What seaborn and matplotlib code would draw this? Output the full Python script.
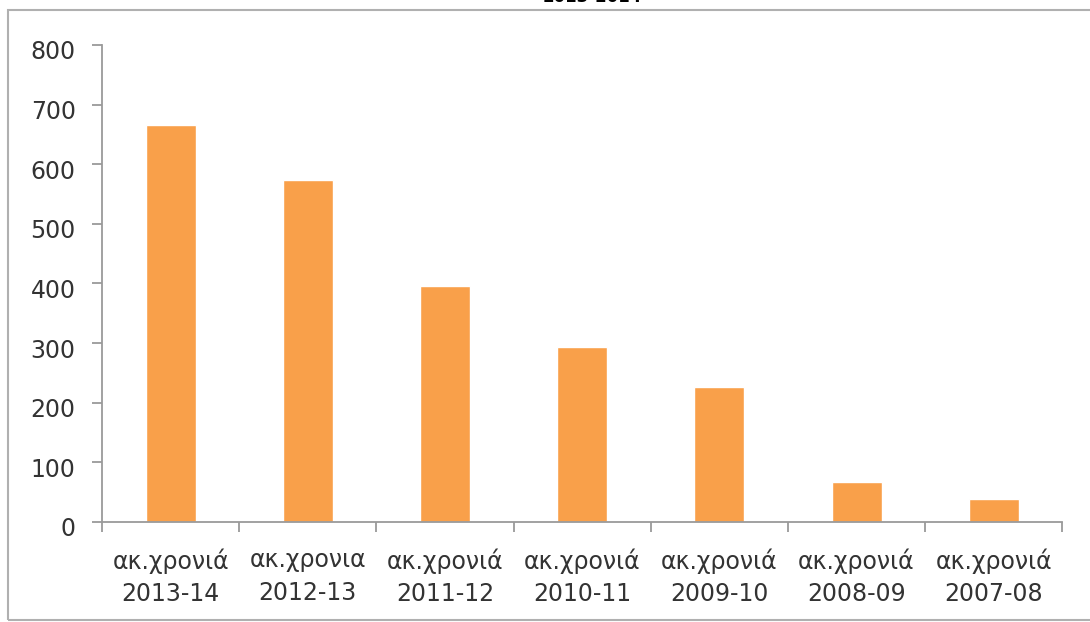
import matplotlib
matplotlib.use('Agg')
import matplotlib.pyplot as plt
import matplotlib.transforms as mtransforms
import seaborn as sns
import pandas as pd
from matplotlib.patches import Rectangle

# data
labels = ['ακ.χρονιά\n2013-14', 'ακ.χρονια\n2012-13', 'ακ.χρονιά\n2011-12',
          'ακ.χρονιά\n2010-11', 'ακ.χρονιά\n2009-10', 'ακ.χρονιά\n2008-09',
          'ακ.χρονιά\n2007-08']
values = [665, 574, 395, 293, 227, 67, 38]
title = '2013-2014'

df = pd.DataFrame({'label': labels, 'value': values})

sns.set_style('white')
plt.rcParams['font.family'] = ['DejaVu Sans']

fig = plt.figure(figsize=(10.9, 6.22), dpi=100)
ax = fig.add_axes([0.0936, 0.1608, 0.881, 0.7669])

sns.barplot(data=df, x='label', y='value', color='#F9A04A', width=0.365,
            saturation=1, ax=ax)

ax.set_xlim(-0.5, len(labels) - 0.5)
ax.set_ylim(0, 800)
ax.set_yticks(range(0, 801, 100))
ax.set_xlabel('')
ax.set_ylabel('')

for s in ['top', 'right']:
    ax.spines[s].set_visible(False)
for s in ['left', 'bottom']:
    ax.spines[s].set_color('#9a9a9a')
    ax.spines[s].set_linewidth(1.3)

ax.tick_params(axis='y', length=7, width=1.3, color='#9a9a9a',
               labelsize=17, labelcolor='#333333', pad=12, left=True)
ax.tick_params(axis='x', length=0, labelsize=17, labelcolor='#333333', pad=19)
ax.set_xticks([i - 0.5 for i in range(len(labels) + 1)], minor=True)
ax.tick_params(axis='x', which='minor', length=7, width=1.3, color='#9a9a9a',
               bottom=True)
for t in ax.get_xticklabels():
    t.set_linespacing(1.45)

# y labels sit a little below their ticks in the original
shift = mtransforms.ScaledTranslation(0, -5 / 100, fig.dpi_scale_trans)
for t in ax.get_yticklabels():
    t.set_transform(t.get_transform() + shift)

# outer frame of the original chart box
fig.patches.append(Rectangle((8 / 1090, 1 - 620 / 622), 1.0, (620 - 10) / 622,
                             transform=fig.transFigure, fill=False,
                             edgecolor='#b0b0b0', linewidth=1.5))

# title, cut off at the top of the picture
fig.text(0.543, 1.0 + 3 / 622, title, ha='center', va='center', fontsize=12,
         fontweight='bold', color='black')

fig.savefig('out.png', dpi=100)
